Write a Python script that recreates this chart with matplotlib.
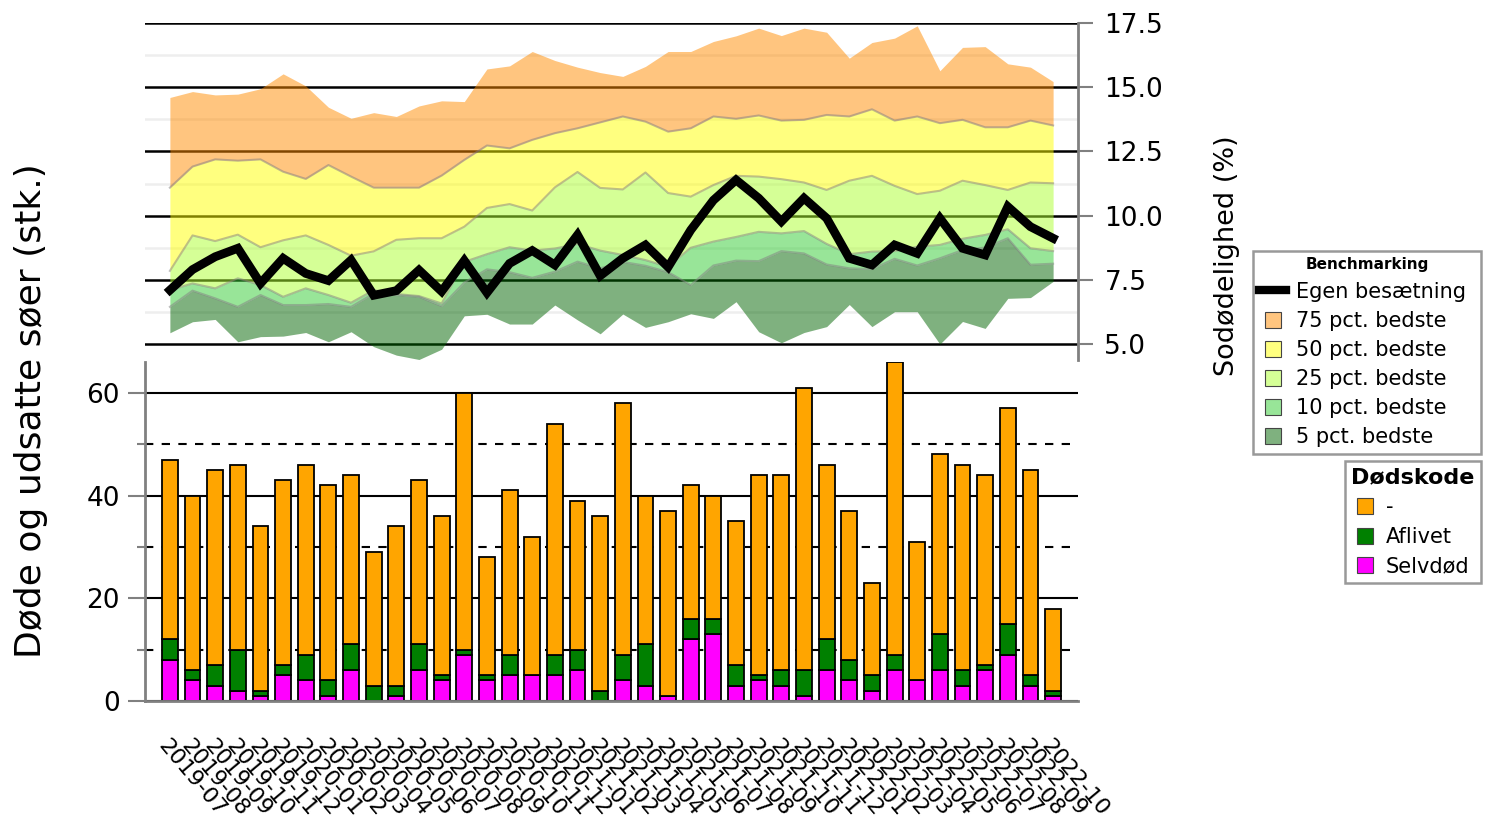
import numpy as np
import pandas as pd
import matplotlib
matplotlib.use("Agg")
import matplotlib.pyplot as plt
from matplotlib.lines import Line2D

plt.rcParams['font.family'] = ['DejaVu Sans']

maaneder = list(pd.period_range('2019-07', '2022-10', freq='M').strftime('%Y-%m'))

# Sodødelighed (%) - egen besætning
egen = [7.1, 7.9, 8.4, 8.73, 7.36, 8.34, 7.75, 7.47, 8.27, 6.9, 7.08, 7.88, 7.05, 8.25, 7.0,
        8.14, 8.64, 8.08, 9.25, 7.66, 8.34, 8.86, 8.0, 9.44, 10.6, 11.39, 10.68, 9.77, 10.68,
        9.9, 8.34, 8.08, 8.86, 8.53, 9.9, 8.73, 8.47, 10.35, 9.57, 9.12]

# benchmark-grænser, nederst til øverst
graense_min = [5.44, 5.87, 5.96, 5.09, 5.29, 5.31, 5.45, 5.09, 5.48, 4.9, 4.57, 4.4, 4.8, 6.1,
               6.16, 5.78, 5.78, 6.52, 5.94, 5.4, 6.17, 5.65, 5.87, 6.18, 6.0, 6.65, 5.48, 5.05,
               5.45, 5.68, 6.54, 5.68, 6.26, 6.26, 5.0, 5.88, 5.61, 6.78, 6.81, 7.44]
graense_5 = [6.45, 7.08, 6.78, 6.45, 6.91, 6.52, 6.52, 6.56, 6.45, 6.97, 6.91, 6.84, 6.48, 7.4,
             7.91, 7.8, 7.58, 7.82, 8.21, 7.95, 8.2, 8.05, 7.8, 7.3, 8.06, 8.25, 8.23, 8.62,
             8.53, 8.1, 7.95, 7.92, 8.32, 8.06, 8.34, 8.66, 8.76, 9.12, 8.09, 8.13]
graense_10 = [7.1, 7.36, 7.17, 7.56, 7.3, 6.84, 7.17, 6.91, 6.61, 7.1, 6.95, 6.87, 6.58, 8.2,
              8.5, 8.77, 8.64, 8.72, 8.9, 8.64, 8.47, 8.27, 8.01, 8.75, 8.99, 9.17, 9.37, 9.31,
              9.4, 8.9, 8.5, 8.6, 8.62, 8.79, 8.86, 9.1, 9.25, 9.47, 8.73, 8.62]
graense_25 = [7.85, 9.23, 9.01, 9.26, 8.77, 9.04, 9.23, 8.86, 8.44, 8.61, 9.06, 9.12, 9.12, 9.57,
              10.3, 10.45, 10.2, 11.1, 11.7, 11.08, 11.02, 11.68, 10.88, 10.74, 11.19, 11.55,
              11.52, 11.42, 11.29, 11.0, 11.36, 11.55, 11.16, 10.84, 10.97, 11.36, 11.19, 11.0,
              11.29, 11.26]
graense_50 = [11.09, 11.91, 12.19, 12.14, 12.19, 11.71, 11.43, 11.97, 11.52, 11.09, 11.09, 11.09,
              11.56, 12.17, 12.73, 12.62, 12.95, 13.21, 13.4, 13.63, 13.86, 13.66, 13.27, 13.4,
              13.86, 13.77, 13.9, 13.7, 13.73, 13.92, 13.86, 14.14, 13.7, 13.86, 13.6, 13.73,
              13.44, 13.44, 13.7, 13.51]
graense_75 = [14.6, 14.83, 14.7, 14.73, 14.94, 15.52, 15.05, 14.22, 13.79, 14.01, 13.86, 14.27,
              14.47, 14.44, 15.71, 15.83, 16.39, 16.04, 15.78, 15.57, 15.42, 15.81, 16.39, 16.39,
              16.78, 17.0, 17.3, 17.01, 17.3, 17.14, 16.13, 16.74, 16.91, 17.39, 15.64, 16.55,
              16.58, 15.91, 15.78, 15.22]

# Døde og udsatte søer (stk.)
selvdod = [8, 4, 3, 2, 1, 5, 4, 1, 6, 0, 1, 6, 4, 9, 4, 5, 5, 5, 6, 0, 4, 3, 1, 12, 13, 3, 4, 3,
           1, 6, 4, 2, 6, 4, 6, 3, 6, 9, 3, 1]
aflivet = [4, 2, 4, 8, 1, 2, 5, 3, 5, 3, 2, 5, 1, 1, 1, 4, 0, 4, 4, 2, 5, 8, 0, 4, 3, 4, 1, 3, 5,
           6, 4, 3, 3, 0, 7, 3, 1, 6, 2, 1]
ukendt = [35, 34, 38, 36, 32, 36, 37, 38, 33, 26, 31, 32, 31, 50, 23, 32, 27, 45, 29, 34, 49, 29,
          36, 26, 24, 28, 39, 38, 55, 34, 29, 18, 57, 27, 35, 40, 37, 42, 40, 16]

band_navne = ['5 pct. bedste', '10 pct. bedste', '25 pct. bedste', '50 pct. bedste', '75 pct. bedste']
band_farver = ['darkgreen', 'limegreen', 'greenyellow', 'yellow', 'darkorange']

x = np.arange(len(maaneder))
graenser = [graense_min, graense_5, graense_10, graense_25, graense_50, graense_75]

fig = plt.figure(figsize=(14.9, 8.21), dpi=100)
ax1 = fig.add_axes([0.0973, 0.5615, 0.6262, 0.4105])
ax2 = fig.add_axes([0.0973, 0.1462, 0.6262, 0.4129])

# --- øverste panel: sodødelighed ---
for k in range(5):
    ax1.fill_between(x, graenser[k], graenser[k + 1], color=band_farver[k], alpha=0.5,
                     linewidth=0, zorder=2)
for g in graenser[1:5]:
    ax1.plot(x, g, color='gray', alpha=0.5, lw=1.5, zorder=2.5)
ax1.plot(x, egen, color='black', lw=6.3, solid_joinstyle='miter', zorder=3)

ax1.set_xlim(-1.1, 40.1)
ax1.set_ylim(4.38, 17.5)
ax1.set_yticks([5.0, 7.5, 10.0, 12.5, 15.0, 17.5])
ax1.set_yticks([6.25, 8.75, 11.25, 13.75, 16.25], minor=True)
ax1.yaxis.tick_right()
ax1.yaxis.set_label_position('right')
ax1.set_yticklabels(['5.0', '7.5', '10.0', '12.5', '15.0', '17.5'])
ax1.tick_params(axis='y', which='major', labelsize=19, length=11, width=1.5, color='gray', pad=8)
ax1.tick_params(axis='y', which='minor', length=0)
ax1.set_xticks([])
ax1.grid(True, axis='y', which='major', color='black', lw=1.8, zorder=1)
ax1.grid(True, axis='y', which='minor', color='#eeeeee', lw=1.8, zorder=1)
ax1.set_axisbelow(True)
for s in ['top', 'left', 'bottom']:
    ax1.spines[s].set_visible(False)
ax1.spines['right'].set_color('gray')
ax1.spines['right'].set_linewidth(2)
ax1.set_ylabel('Sodødelighed (%)', fontsize=19.5)
ax1.yaxis.set_label_coords(1.146, 0.309)

# --- nederste panel: døde søer ---
bw = 0.7
ax2.bar(x, selvdod, bw, color='magenta', edgecolor='black', lw=1.3, zorder=2)
ax2.bar(x, aflivet, bw, bottom=selvdod, color='green', edgecolor='black', lw=1.3, zorder=2)
bund = np.array(selvdod) + np.array(aflivet)
ax2.bar(x, ukendt, bw, bottom=bund, color='orange', edgecolor='black', lw=1.3, zorder=2)

ax2.set_xlim(-1.1, 40.1)
ax2.set_ylim(0, 66)
ax2.set_yticks([0, 20, 40, 60])
ax2.set_yticks([10, 30, 50], minor=True)
ax2.tick_params(axis='y', which='major', labelsize=19, length=12, width=1.5, color='gray', pad=6)
ax2.tick_params(axis='y', which='minor', length=6, width=1.5, color='gray')
ax2.grid(True, axis='y', which='major', color='black', lw=1.5, zorder=1)
ax2.grid(True, axis='y', which='minor', color='black', lw=1.5, ls=(0, (4, 4)), zorder=1)
ax2.set_axisbelow(True)
ax2.set_xticks(x)
ax2.set_xticklabels(maaneder, rotation=-50, ha='left', va='top', rotation_mode='anchor',
                    fontsize=16)
ax2.tick_params(axis='x', length=0, pad=25)
for s in ['top', 'right']:
    ax2.spines[s].set_visible(False)
for s in ['left', 'bottom']:
    ax2.spines[s].set_color('gray')
    ax2.spines[s].set_linewidth(2)

fig.text(0.021, 0.5, 'Døde og udsatte søer (stk.)', rotation=90, fontsize=26,
         ha='center', va='center')

# --- legender ---
h1 = [Line2D([], [], color='black', lw=6)]
for navn, farve in zip(band_navne[::-1], band_farver[::-1]):
    h1.append(Line2D([], [], marker='s', ls='none', markersize=12,
                     markerfacecolor=matplotlib.colors.to_rgba(farve, 0.5),
                     markeredgecolor='#444444', markeredgewidth=0.8))
lab1 = ['Egen besætning'] + band_navne[::-1]
leg1 = fig.legend(h1, lab1, loc='upper left', bbox_to_anchor=(0.8409, 0.494, 0.153, 0.2),
                  mode='expand',
                  title='Benchmarking', title_fontproperties={'weight': 'bold', 'size': 11},
                  fontsize=15, frameon=True, fancybox=False, edgecolor='#999999',
                  framealpha=1, labelspacing=0.44, handlelength=1.3, handletextpad=0.45,
                  borderpad=0.3, borderaxespad=0)
leg1.get_frame().set_linewidth(1.8)

h2 = []
for farve in ['orange', 'green', 'magenta']:
    h2.append(Line2D([], [], marker='s', ls='none', markersize=12, markerfacecolor=farve,
                     markeredgecolor='#444444', markeredgewidth=0.8))
leg2 = fig.legend(h2, ['-', 'Aflivet', 'Selvdød'], loc='upper right',
                  bbox_to_anchor=(0.994, 0.4385), title='Dødskode',
                  title_fontproperties={'weight': 'bold', 'size': 16},
                  fontsize=15, frameon=True, fancybox=False, edgecolor='#999999',
                  framealpha=1, labelspacing=0.47, handlelength=0.8, handletextpad=0.6,
                  borderpad=0.3, borderaxespad=0)
leg2.get_frame().set_linewidth(1.8)

fig.savefig('out.png', dpi=100)
